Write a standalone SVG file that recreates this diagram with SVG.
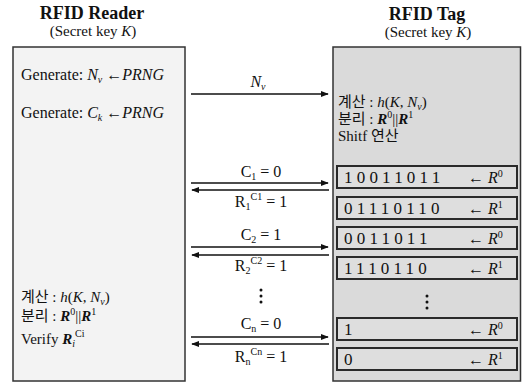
<svg xmlns="http://www.w3.org/2000/svg" width="522" height="383" viewBox="0 0 522 383">
<style>
text{font-family:"Liberation Serif","Noto Sans CJK KR",serif;fill:#111;}
.title{font-size:18px;font-weight:bold;}
.sub{font-size:15px;}
.t{font-size:16px;}
.k{font-size:15px;}
.it{font-style:italic;}
.bits{font-size:17px;letter-spacing:4.2px;}
.cell{fill:#dedede;stroke:#2a2a2a;stroke-width:2;}
.msg{stroke:#111;stroke-width:1.6;fill:none;marker-end:url(#ah);}
.dot{fill:#111;}
</style>
<defs>
<marker id="ah" viewBox="0 0 10 10" refX="9" refY="5" markerWidth="8" markerHeight="8" markerUnits="userSpaceOnUse" orient="auto">
<path d="M0,1 L10,5 L0,9 z" fill="#111"/>
</marker>
</defs>
<rect width="522" height="383" fill="#fff"/>

<g id="reader">
<text class="title" x="92" y="19" text-anchor="middle">RFID Reader</text>
<text class="sub" x="93" y="36" text-anchor="middle">(Secret key <tspan class="it">K</tspan>)</text>
<rect x="13" y="47" width="172" height="334" fill="#f3f3f3" stroke="#333" stroke-width="1.5"/>
<text class="t" x="21" y="80">Generate: <tspan class="it">N</tspan><tspan font-size="10" dy="3" class="it">v</tspan><tspan dy="-3"> ←</tspan><tspan class="it">PRNG</tspan></text>
<text class="t" x="21" y="118">Generate: <tspan class="it">C</tspan><tspan font-size="10" dy="3" class="it">k</tspan><tspan dy="-3"> ←</tspan><tspan class="it">PRNG</tspan></text>
<text class="k" x="21" y="302">계산 : <tspan class="it">h</tspan>(<tspan class="it">K</tspan>, <tspan class="it">N</tspan><tspan font-size="10" dy="3" class="it">v</tspan><tspan dy="-3">)</tspan></text>
<text class="k" x="21" y="321">분리 : <tspan class="it" font-weight="bold">R</tspan><tspan font-size="10" dy="-6">0</tspan><tspan dy="6">||</tspan><tspan class="it" font-weight="bold">R</tspan><tspan font-size="10" dy="-6">1</tspan></text>
<text class="k" x="21" y="344">Verify <tspan class="it" font-weight="bold">R</tspan><tspan font-size="10" dy="3" class="it">i</tspan><tspan font-size="10" dy="-10">Ci</tspan></text>
</g>

<g id="tag">
<text class="title" x="427" y="20" text-anchor="middle">RFID Tag</text>
<text class="sub" x="428" y="37" text-anchor="middle">(Secret key <tspan class="it">K</tspan>)</text>
<rect x="333" y="47" width="187.5" height="334" fill="#dadada" stroke="#333" stroke-width="1.5"/>
<text class="k" x="338" y="107">계산 : <tspan class="it">h</tspan>(<tspan class="it">K</tspan>, <tspan class="it">N</tspan><tspan font-size="10" dy="3" class="it">v</tspan><tspan dy="-3">)</tspan></text>
<text class="k" x="338" y="124">분리 : <tspan class="it" font-weight="bold">R</tspan><tspan font-size="10" dy="-6">0</tspan><tspan dy="6">||</tspan><tspan class="it" font-weight="bold">R</tspan><tspan font-size="10" dy="-6">1</tspan></text>
<text class="k" x="338" y="141">Shitf 연산</text>
</g>

<g id="tag-bits">
<g id="row1"><rect class="cell" x="337" y="166" width="180" height="22"/><text class="bits" x="344" y="183">10011011</text><text class="t" x="468" y="183">← <tspan class="it">R</tspan><tspan font-size="10" dy="-6">0</tspan></text></g>
<g id="row2"><rect class="cell" x="337" y="197" width="180" height="22"/><text class="bits" x="344" y="214">01110110</text><text class="t" x="468" y="214">← <tspan class="it">R</tspan><tspan font-size="10" dy="-6">1</tspan></text></g>
<g id="row3"><rect class="cell" x="337" y="227" width="180" height="22"/><text class="bits" x="344" y="244">0011011</text><text class="t" x="468" y="244">← <tspan class="it">R</tspan><tspan font-size="10" dy="-6">0</tspan></text></g>
<g id="row4"><rect class="cell" x="337" y="257" width="180" height="22"/><text class="bits" x="344" y="274">1110110</text><text class="t" x="468" y="274">← <tspan class="it">R</tspan><tspan font-size="10" dy="-6">1</tspan></text></g>
<g id="tagdots"><circle class="dot" cx="427" cy="296" r="1.5"/><circle class="dot" cx="427" cy="302" r="1.5"/><circle class="dot" cx="427" cy="308" r="1.5"/></g>
<g id="row5"><rect class="cell" x="337" y="318" width="180" height="22"/><text class="bits" x="344" y="335">1</text><text class="t" x="468" y="335">← <tspan class="it">R</tspan><tspan font-size="10" dy="-6">0</tspan></text></g>
<g id="row6"><rect class="cell" x="337" y="348" width="180" height="22"/><text class="bits" x="344" y="365">0</text><text class="t" x="468" y="365">← <tspan class="it">R</tspan><tspan font-size="10" dy="-6">1</tspan></text></g>
</g>

<g id="connectors">
<line class="msg" x1="191" y1="94" x2="328" y2="94"/>
<line class="msg" x1="191" y1="183" x2="328" y2="183"/>
<line class="msg" x1="329" y1="190" x2="192" y2="190"/>
<line class="msg" x1="191" y1="247" x2="328" y2="247"/>
<line class="msg" x1="329" y1="255" x2="192" y2="255"/>
<line class="msg" x1="191" y1="337" x2="328" y2="337"/>
<line class="msg" x1="329" y1="344" x2="192" y2="344"/>
</g>

<g id="labels">
<text class="t" x="258" y="87" text-anchor="middle"><tspan class="it">N</tspan><tspan font-size="10" dy="3" class="it">v</tspan></text>
<text class="t" x="261" y="177" text-anchor="middle">C<tspan font-size="10" dy="3">1</tspan><tspan dy="-3"> = 0</tspan></text>
<text class="t" x="261" y="207" text-anchor="middle">R<tspan font-size="10" dy="3">1</tspan><tspan font-size="10" dy="-10">C1</tspan><tspan dy="7"> = 1</tspan></text>
<text class="t" x="261" y="240" text-anchor="middle">C<tspan font-size="10" dy="3">2</tspan><tspan dy="-3"> = 1</tspan></text>
<text class="t" x="261" y="271" text-anchor="middle">R<tspan font-size="10" dy="3">2</tspan><tspan font-size="10" dy="-10">C2</tspan><tspan dy="7"> = 1</tspan></text>
<g id="middots"><circle class="dot" cx="261" cy="290" r="1.5"/><circle class="dot" cx="261" cy="296" r="1.5"/><circle class="dot" cx="261" cy="302" r="1.5"/></g>
<text class="t" x="261" y="329" text-anchor="middle">C<tspan font-size="10" dy="3">n</tspan><tspan dy="-3"> = 0</tspan></text>
<text class="t" x="261" y="362" text-anchor="middle">R<tspan font-size="10" dy="3">n</tspan><tspan font-size="10" dy="-10">Cn</tspan><tspan dy="7"> = 1</tspan></text>
</g>
</svg>
